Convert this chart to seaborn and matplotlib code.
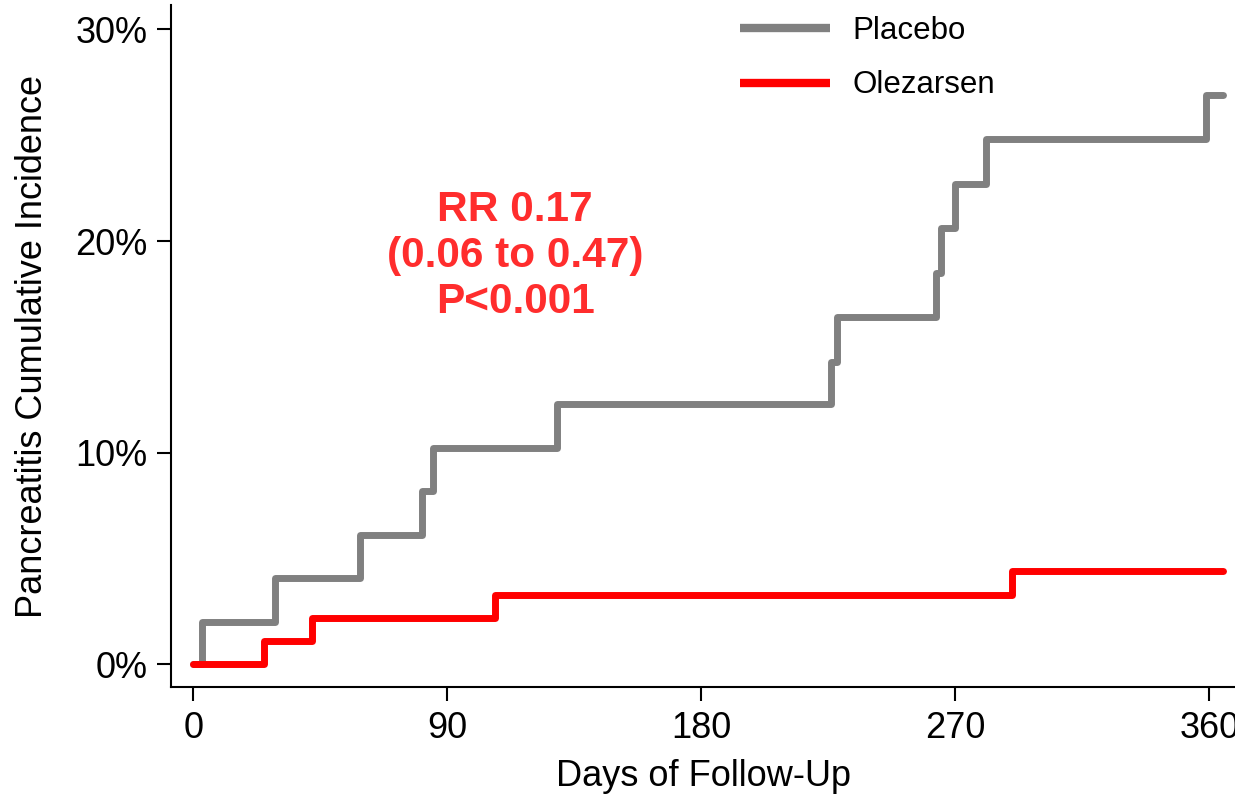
import numpy as np
import pandas as pd
import matplotlib
matplotlib.use("Agg")
import matplotlib.pyplot as plt
import seaborn as sns
from matplotlib.ticker import FuncFormatter

# 데이터
placebo_days = [0, 3, 29, 59, 81, 85, 129, 226, 228, 263, 265, 270, 281, 359, 365]
placebo_pct = [0, 2.0, 4.1, 6.1, 8.2, 10.2, 12.3, 14.3, 16.4, 18.5, 20.6, 22.7, 24.8, 26.9, 26.9]
olez_days = [0, 25, 42, 107, 290, 365]
olez_pct = [0, 1.1, 2.2, 3.3, 4.4, 4.4]
groups = ["Placebo", "Olezarsen"]
x_ticks = [0, 90, 180, 270, 360]
y_ticks = [0, 10, 20, 30]

df = pd.concat([
    pd.DataFrame({"day": placebo_days, "pct": placebo_pct, "group": "Placebo"}),
    pd.DataFrame({"day": olez_days, "pct": olez_pct, "group": "Olezarsen"}),
], ignore_index=True)

sns.set_style("white")
plt.rcParams["font.family"] = ["Liberation Sans", "DejaVu Sans"]
plt.rcParams["text.color"] = "black"
plt.rcParams["axes.labelcolor"] = "black"
plt.rcParams["xtick.color"] = "black"
plt.rcParams["ytick.color"] = "black"

fig = plt.figure(figsize=(12.35, 7.94), dpi=100)
ax = fig.add_axes([171 / 1235, 1 - 687 / 794, 1 - 171 / 1235, (687 - 5) / 794])

sns.lineplot(data=df, x="day", y="pct", hue="group", hue_order=groups,
             palette={"Placebo": "#808080", "Olezarsen": "#ff0000"},
             estimator=None, sort=False, drawstyle="steps-post",
             linewidth=5, ax=ax)

ax.set_xlim(-7.9, 369.1)
ax.set_ylim(-1.07, 31.15)
ax.set_xticks(x_ticks)
ax.set_yticks(y_ticks)
ax.yaxis.set_major_formatter(FuncFormatter(lambda v, p: f"{v:.0f}%"))
ax.tick_params(axis="both", labelsize=26, length=10, width=1.5,
               direction="out", bottom=True, left=True)
ax.tick_params(axis="x", pad=7)
ax.tick_params(axis="y", pad=7)

for s in ["top", "right"]:
    ax.spines[s].set_visible(False)
for s in ["left", "bottom"]:
    ax.spines[s].set_color("black")
    ax.spines[s].set_linewidth(1.5)

# 축 제목
ax.set_xlabel("Days of Follow-Up", fontsize=26, labelpad=10)
ax.set_ylabel("Pancreatitis Cumulative Incidence", fontsize=26, labelpad=18)

leg = ax.legend(loc="upper left", bbox_to_anchor=(0.508, 1.025), frameon=False,
                fontsize=22.5, handlelength=2.88, handletextpad=0.72,
                labelspacing=0.78)
for line in leg.get_lines():
    line.set_linewidth(6)
    line.set_solid_capstyle("butt")

# RR 주석
ax.text(114, 19.3, "RR 0.17\n(0.06 to 0.47)\nP<0.001", color="#ff2d2d",
        fontsize=30.5, fontweight="bold", ha="center", va="center",
        linespacing=1.2)

fig.savefig("out.png", dpi=100)
